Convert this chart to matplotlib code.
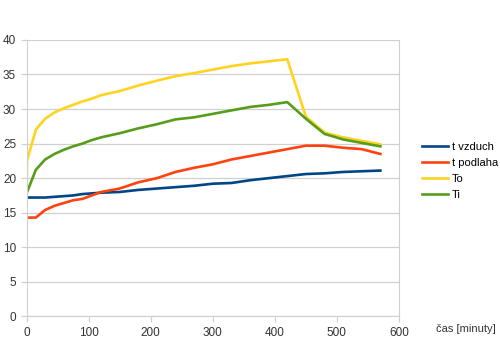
import matplotlib
matplotlib.use('Agg')
import matplotlib.pyplot as plt

plt.rcParams['font.family'] = ['Liberation Sans', 'DejaVu Sans']

cas = [0, 1, 15, 30, 45, 60, 75, 90, 105, 120, 150, 180, 210, 240, 270,
       300, 330, 360, 390, 420, 450, 480, 510, 540, 570]
t_vzduch = [17.2, 17.2, 17.2, 17.2, 17.3, 17.4, 17.5, 17.7, 17.8, 17.9, 18.0, 18.3, 18.5,
            18.7, 18.9, 19.2, 19.3, 19.7, 20.0, 20.3, 20.6, 20.7, 20.9, 21.0, 21.1]
t_podlaha = [14.3, 14.3, 14.3, 15.4, 16.0, 16.4, 16.8, 17.0, 17.5, 18.0, 18.5, 19.4, 20.0,
             20.9, 21.5, 22.0, 22.7, 23.2, 23.7, 24.2, 24.7, 24.7, 24.4, 24.2, 23.5]
To = [18.0, 22.6, 27.0, 28.6, 29.5, 30.1, 30.6, 31.1, 31.5, 32.0, 32.6, 33.4, 34.1,
      34.75, 35.2, 35.7, 36.2, 36.6, 36.9, 37.2, 28.9, 26.6, 25.9, 25.4, 24.9]
Ti = [17.8, 18.0, 21.2, 22.7, 23.5, 24.1, 24.6, 25.0, 25.5, 25.9, 26.5, 27.2, 27.8,
      28.5, 28.8, 29.3, 29.8, 30.3, 30.6, 31.0, 28.6, 26.4, 25.6, 25.1, 24.6]

fig = plt.figure(figsize=(5, 3.41), dpi=100)
ax = fig.add_axes([0.053, 0.072, 0.745, 0.811])

ax.plot(cas, t_vzduch, color='#004586', lw=1.9, label='t vzduch')
ax.plot(cas, t_podlaha, color='#ff420e', lw=1.9, label='t podlaha')
ax.plot(cas, To, color='#ffd320', lw=1.9, label='To')
ax.plot(cas, Ti, color='#579d1c', lw=1.9, label='Ti')

ax.set_xlim(0, 600)
ax.set_ylim(0, 40)
ax.set_xticks(range(0, 601, 100))
ax.set_yticks(range(0, 41, 5))
ax.yaxis.grid(True, color='#d0d0d0', lw=0.9)
ax.set_axisbelow(True)
for s in ['top', 'right', 'left', 'bottom']:
    ax.spines[s].set_color('#d0d0d0')
ax.spines['top'].set_visible(False)
ax.tick_params(colors='#d0d0d0', labelcolor='#333333', labelsize=8.5, length=4, width=0.9)

fig.text(0.872, 0.025, 'čas [minuty]', fontsize=8, color='#333333')
fig.legend(loc='upper left', bbox_to_anchor=(0.843, 0.584), frameon=False, fontsize=8,
           handlelength=2.4, handletextpad=0.3, labelspacing=0.55, borderaxespad=0,
           borderpad=0)

fig.savefig('out.png', dpi=100)
